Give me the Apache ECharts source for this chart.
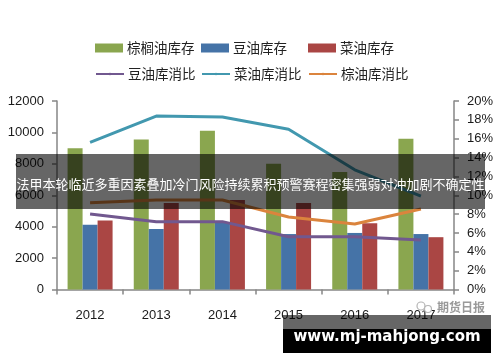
<!DOCTYPE html>
<html><head><meta charset="utf-8">
<style>html,body{margin:0;padding:0;background:#fff}#c{width:500px;height:362px}</style>
<script src="https://cdn.jsdelivr.net/npm/echarts@6/dist/echarts.min.js"></script></head>
<body><div id="c"></div>
<script>
const years=['2012','2013','2014','2015','2016','2017'];
const palmStock=[9000,9550,10100,8000,7480,9590];
const soyStock=[4120,3850,4300,3530,3600,3530];
const rapeStock=[4400,5500,5700,5500,4220,3330];
const soyRatio=[8.0,7.2,7.2,5.6,5.6,5.25];
const rapeRatio=[15.6,18.4,18.3,17.0,12.7,9.9];
const palmRatio=[9.2,9.5,9.5,7.7,6.95,8.55];
const headline='法甲本轮临近多重因素叠加冷门风险持续累积预警赛程密集强弱对冲加剧不确定性';
const siteText='www.mj-mahjong.com';
const watermark='期货日报';
const cjk='"Noto Sans CJK SC","Noto Sans",sans-serif';
const latin='"Liberation Sans",Arial,sans-serif';
const bar=(name,data,color)=>({name,type:'bar',data,yAxisIndex:0,barWidth:15,barGap:'0%',itemStyle:{color},z:2});
const line=(name,data,color)=>({name,type:'line',data,yAxisIndex:1,symbol:'none',smooth:false,lineStyle:{color,width:3},itemStyle:{color},z:5});
const leg=(name,left,top,isBar)=>({data:[{name,icon:isBar?'rect':undefined}],left,top,padding:0,itemWidth:28,itemHeight:isBar?9:3,selectedMode:false,
  textStyle:{fontFamily:cjk,fontSize:13.5,color:'#222',height:16,lineHeight:16,padding:[0,0,0,-1]}});
const axisStyle={lineStyle:{color:'#868686',width:1.5}};
const chart=echarts.init(document.getElementById('c'),null,{renderer:'canvas'});
chart.setOption({
 animation:false,backgroundColor:'#fff',
 grid:{left:57,right:46,top:101,bottom:72.5,containLabel:false},
 legend:[leg('棕榈油库存',95,40,true),leg('豆油库存',201,40,true),leg('菜油库存',308,40,true),
         leg('豆油库消比',95,66,false),leg('菜油库消比',201,66,false),leg('棕油库消比',308,66,false)],
 xAxis:{type:'category',data:years,axisLine:axisStyle,axisTick:{show:true,alignWithLabel:false,length:5,lineStyle:axisStyle.lineStyle},
   axisLabel:{margin:19,fontFamily:latin,fontSize:13,color:'#1a1a1a'}},
 yAxis:[{type:'value',min:0,max:12000,interval:2000,splitLine:{show:false},axisLine:{show:true,...axisStyle},
   axisTick:{show:true,length:5,lineStyle:axisStyle.lineStyle},axisLabel:{margin:13,fontFamily:latin,fontSize:13,color:'#1a1a1a',formatter:v=>String(v)}},
  {type:'value',min:0,max:20,interval:2,position:'right',splitLine:{show:false},axisLine:{show:true,...axisStyle},
   axisTick:{show:true,length:5,lineStyle:axisStyle.lineStyle},axisLabel:{margin:13,fontFamily:latin,fontSize:13,color:'#1a1a1a',formatter:'{value}%'}}],
 series:[bar('棕榈油库存',palmStock,'#8aa64f'),bar('豆油库存',soyStock,'#4573a7'),bar('菜油库存',rapeStock,'#aa4644'),
   line('豆油库消比',soyRatio,'#71588f'),line('菜油库消比',rapeRatio,'#4298af'),line('棕油库消比',palmRatio,'#db843d')],
 graphic:[
  {type:'rect',z:100,shape:{x:16,y:154,width:469,height:55},style:{fill:'rgba(0,0,0,0.6)'}},
  {type:'text',z:101,style:{x:250.5,y:184,text:headline,fill:'#fff',font:'13px '+cjk,align:'center',verticalAlign:'middle'}},
  {type:'circle',z:99,shape:{cx:421,cy:306,r:4},style:{fill:'none',stroke:'#b5b5b5',lineWidth:1.2}},
  {type:'circle',z:99,shape:{cx:428,cy:309,r:3.5},style:{fill:'#fff',stroke:'#b5b5b5',lineWidth:1.2}},
  {type:'text',z:99,style:{x:461,y:307,text:watermark,fill:'#9a9a9a',font:'bold 12px '+cjk,align:'center',verticalAlign:'middle'}},
  {type:'rect',z:100,shape:{x:283,y:315,width:208,height:14},style:{fill:'rgba(0,0,0,0.6)'}},
  {type:'rect',z:100,shape:{x:283,y:329,width:208,height:24},style:{fill:'#000'}},
  {type:'text',z:101,style:{x:387,y:337,text:siteText,fill:'#fff',font:'bold 15px "DejaVu Sans",sans-serif',align:'center',verticalAlign:'middle'}}
 ]
});
</script></body></html>
